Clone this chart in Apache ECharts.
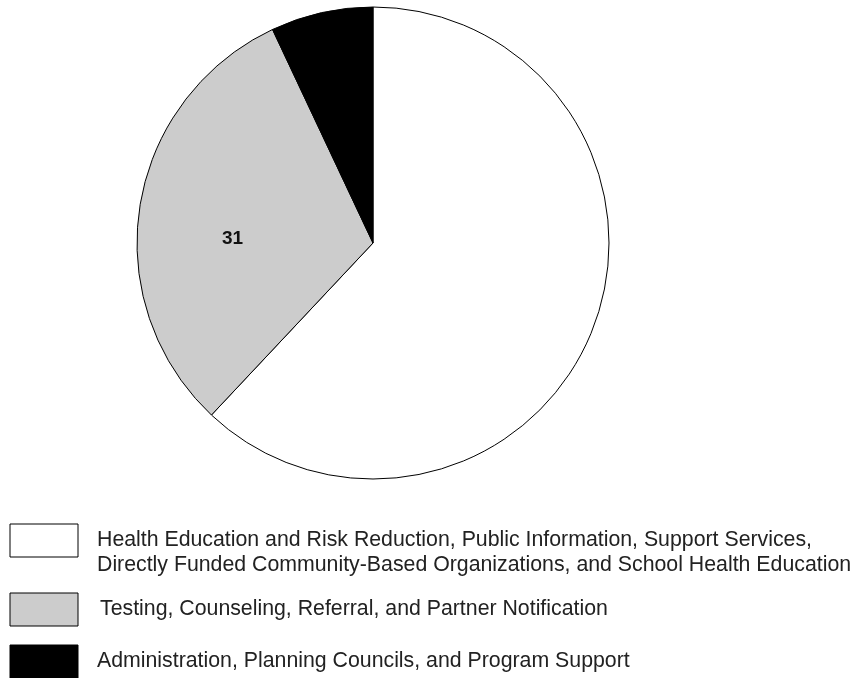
<!DOCTYPE html>
<html><head><meta charset="utf-8">
<script src="https://cdn.jsdelivr.net/npm/echarts@6/dist/echarts.min.js"></script>
<style>html,body{margin:0;padding:0;background:#fff}#c{width:862px;height:678px}</style>
</head><body><div id="c"></div>
<script>
const categories = [
  "Health Education and Risk Reduction, Public Information, Support Services,\nDirectly Funded Community-Based Organizations, and School Health Education",
  "Testing, Counseling, Referral, and Partner Notification",
  "Administration, Planning Councils, and Program Support"
];
const values = [62, 31, 7];
const colors = ["#ffffff", "#cccccc", "#000000"];
const shownLabels = [false, true, false];

const chart = echarts.init(document.getElementById('c'), null, {renderer: 'canvas'});
const boxTops = [524, 593, 645];
const boxH = 33;
const textX = [97, 100, 97];
const graphic = [];
categories.forEach((name, i) => {
  graphic.push({type: 'rect', shape: {x: 10, y: boxTops[i], width: 68, height: boxH},
    style: {fill: colors[i], stroke: '#000', lineWidth: 1}});
  graphic.push({type: 'text', x: textX[i], y: boxTops[i] + boxH / 2 - 12.5,
    style: {text: name, font: '21.3px "Liberation Sans", Arial, sans-serif', fill: '#222',
      lineHeight: 25, verticalAlign: 'top', align: 'left'}});
});
chart.setOption({
  animation: false,
  graphic: graphic,
  series: [{
    type: 'pie',
    center: [373, 243],
    radius: 236,
    startAngle: 90,
    clockwise: true,
    itemStyle: {borderColor: '#000', borderWidth: 1},
    labelLine: {show: false},
    emphasis: {disabled: true},
    data: values.map((v, i) => ({
      value: v, name: categories[i],
      itemStyle: {color: colors[i]},
      label: {show: shownLabels[i], position: 'inside', formatter: '{c}', offset: [-21, 15],
        color: '#111', fontWeight: 'bold', fontSize: 19, fontFamily: '"Liberation Sans", Arial, sans-serif'}
    }))
  }]
});
</script></body></html>
